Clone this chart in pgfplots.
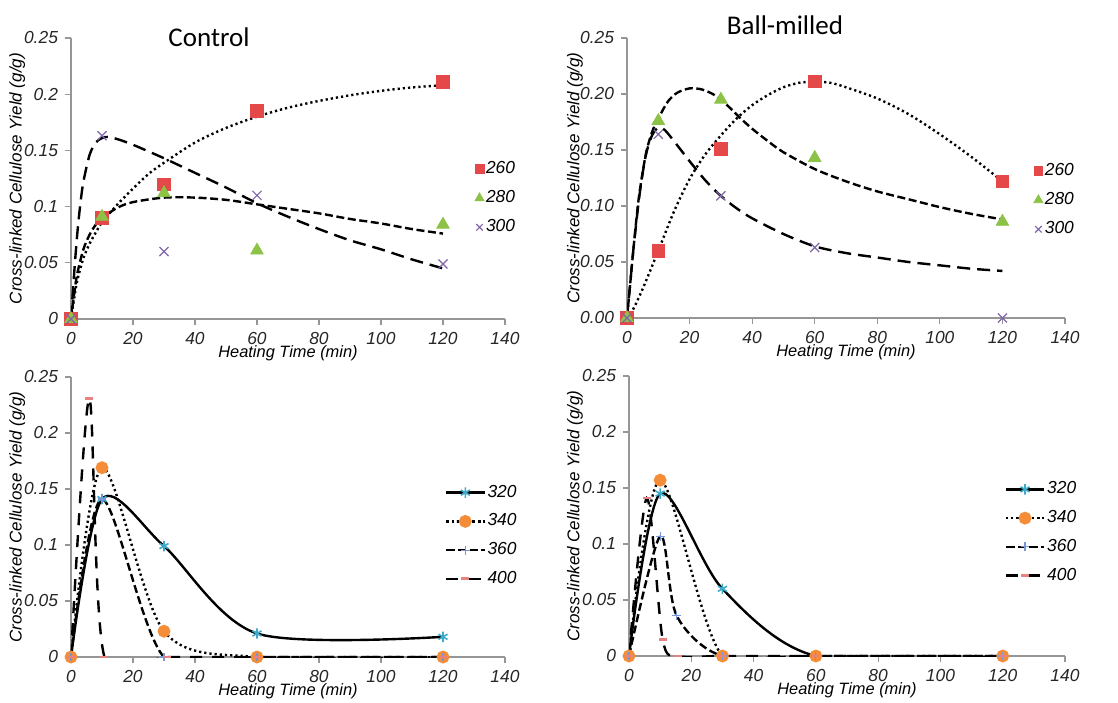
\documentclass[border=0pt]{standalone}
\usepackage{pgfplots}
\pgfplotsset{compat=1.18}
\usepackage{fontspec}
\setmainfont{Liberation Sans}
\newfontfamily\titlefont{Carlito}
\definecolor{axisgray}{RGB}{150,150,150}
\definecolor{cred}{RGB}{228,72,72}
\definecolor{cgreen}{RGB}{140,195,70}
\definecolor{cpurple}{RGB}{128,100,170}
\definecolor{ccyan}{RGB}{60,170,200}
\definecolor{corange}{RGB}{245,140,55}
\definecolor{cblue}{RGB}{120,150,215}
\definecolor{cpink}{RGB}{232,130,130}

\pgfplotsset{
  base/.style={
    scale only axis,
    xmin=0, xmax=140, ymin=0, ymax=0.25,
    axis lines*=left,
    axis line style={draw=axisgray, line width=0.6pt},
    tick align=outside,
    major tick length=3pt,
    tick style={axisgray, line width=0.6pt},
    xtick={0,20,40,60,80,100,120,140},
    xticklabels={0,20,40,60,80,100,120,140},
    ytick={0,0.05,0.1,0.15,0.2,0.25},
    tick label style={font=\itshape\fontsize{8.7}{10}\selectfont, text=black!85},
    xlabel={Heating Time (min)},
    ylabel={Cross-linked Cellulose Yield (g/g)},
    xlabel style={at={(axis description cs:0.5,-0.122)}, anchor=center, font=\itshape\fontsize{8.2}{9.5}\selectfont},
    ylabel style={anchor=center, font=\itshape\fontsize{8.5}{10}\selectfont},
    legend cell align=left,
  },
  toplegend/.style={
    legend style={draw=none, fill=none, inner sep=0pt, outer sep=0pt,
      font=\itshape\fontsize{8.7}{10}\selectfont, row sep=5pt,
      nodes={inner sep=1pt}},
  },
  botlegend/.style={
    legend style={draw=none, fill=none, inner sep=0pt, outer sep=0pt,
      font=\itshape\fontsize{8.7}{10}\selectfont, row sep=4.8pt,
      nodes={inner sep=1pt}},
  },
  mlegend/.style={legend image code/.code={\draw[##1, /tikz/every mark/.append style={scale=0.72}] plot coordinates {(0pt,0pt)};}},
  llegend/.style={legend image code/.code={\draw[mark repeat=2,mark phase=2,##1] plot coordinates {(0pt,0pt)(9.5pt,0pt)(19pt,0pt)};}},
  tl/.style={black, line width=1.2pt, forget plot},
  dotl/.style={dash pattern=on 1.1pt off 1.5pt},
  sdash/.style={dash pattern=on 4pt off 1.8pt},
  ldash/.style={dash pattern=on 6.5pt off 3.5pt},
  msq/.style={only marks, mark=square*, mark size=3.1pt, color=cred, mlegend},
  mtri/.style={only marks, mark=triangle*, mark size=3.6pt, color=cgreen, mlegend},
  mx/.style={only marks, mark=x, mark size=3.2pt, color=cpurple, line width=0.6pt, mlegend},
}

\begin{document}
\begin{tikzpicture}
\useasboundingbox (0,0) rectangle (559pt,351pt);

% ---------------- Top-left: Control ----------------
\begin{axis}[base, toplegend, at={(35.5pt,191.5pt)}, anchor=south west,
  width=217pt, height=140.5pt,
  yticklabels={0,0.05,0.1,0.15,0.2,0.25},
  ylabel style={at={(axis description cs:-0.124,0.5)}},
  legend style={at={(axis description cs:0.931,0.43)}, anchor=west}]
\addplot[tl, dotl, smooth] coordinates {(0,0)(1,0.018)(2,0.034)(4,0.054)(6,0.067)(8,0.077)(10,0.086)(15,0.102)(20,0.116)(25,0.129)(30,0.139)(40,0.157)(50,0.170)(60,0.180)(70,0.188)(80,0.194)(90,0.199)(100,0.203)(110,0.206)(120,0.208)};
\addplot[tl, sdash, smooth] coordinates {(0,0)(1,0.022)(2,0.040)(4,0.062)(6,0.075)(8,0.084)(10,0.090)(15,0.099)(20,0.104)(30,0.108)(40,0.108)(50,0.106)(60,0.102)(70,0.098)(80,0.094)(90,0.089)(100,0.085)(110,0.080)(120,0.076)};
\addplot[tl, ldash, smooth] coordinates {(0,0)(1,0.040)(2,0.075)(3,0.102)(4,0.122)(6,0.146)(8,0.157)(10,0.161)(12,0.162)(15,0.160)(20,0.155)(30,0.143)(40,0.130)(50,0.117)(60,0.103)(70,0.091)(80,0.080)(90,0.070)(100,0.062)(110,0.053)(120,0.045)};
\addplot[msq] coordinates {(0,0)(10,0.090)(30,0.120)(60,0.185)(120,0.211)};
\addlegendentry{260}
\addplot[mtri] coordinates {(0,0)(10,0.091)(30,0.112)(60,0.061)(120,0.084)};
\addlegendentry{280}
\addplot[mx] coordinates {(0,0)(10,0.163)(30,0.060)(60,0.110)(120,0.049)};
\addlegendentry{300}
\end{axis}

% ---------------- Top-right: Ball-milled ----------------
\begin{axis}[base, toplegend, at={(313.5pt,192pt)}, anchor=south west,
  width=219pt, height=140pt,
  yticklabels={0.00,0.05,0.10,0.15,0.20,0.25},
  ylabel style={at={(axis description cs:-0.119,0.5)}},
  legend style={at={(axis description cs:0.929,0.421)}, anchor=west}]
\addplot[tl, dotl, smooth] coordinates {(0,0)(2,0.008)(5,0.026)(10,0.060)(15,0.095)(20,0.124)(25,0.146)(30,0.163)(35,0.178)(40,0.190)(45,0.199)(50,0.206)(55,0.210)(60,0.211)(65,0.210)(70,0.206)(80,0.196)(90,0.182)(100,0.164)(110,0.144)(120,0.122)};
\addplot[tl, sdash, smooth] coordinates {(0,0)(1,0.030)(2,0.060)(3,0.088)(4,0.112)(6,0.146)(8,0.166)(10,0.178)(13,0.193)(16,0.201)(20,0.205)(24,0.204)(28,0.199)(32,0.190)(36,0.179)(40,0.169)(45,0.158)(50,0.148)(60,0.133)(70,0.122)(80,0.113)(90,0.106)(100,0.099)(110,0.093)(120,0.088)};
\addplot[tl, ldash, smooth] coordinates {(0,0)(1,0.030)(2,0.060)(4,0.110)(6,0.145)(8,0.163)(10,0.170)(12,0.168)(15,0.158)(20,0.140)(25,0.123)(30,0.109)(35,0.098)(40,0.089)(50,0.075)(60,0.064)(70,0.058)(80,0.054)(90,0.050)(100,0.047)(110,0.044)(120,0.042)};
\addplot[msq] coordinates {(0,0)(10,0.060)(30,0.151)(60,0.211)(120,0.122)};
\addlegendentry{260}
\addplot[mtri] coordinates {(0,0)(10,0.176)(30,0.195)(60,0.143)(120,0.086)};
\addlegendentry{280}
\addplot[mx] coordinates {(0,0)(10,0.164)(30,0.109)(60,0.063)(120,0)};
\addlegendentry{300}
\end{axis}

% ---------------- Bottom-left ----------------
\begin{axis}[base, botlegend, llegend, at={(35.5pt,22.5pt)}, anchor=south west,
  width=217pt, height=140pt,
  yticklabels={0,0.05,0.1,0.15,0.2,0.25},
  ylabel style={at={(axis description cs:-0.124,0.5)}},
  legend style={at={(axis description cs:0.862,0.433)}, anchor=west}]
\addplot[black, line width=1.2pt, smooth, mark=asterisk, mark size=2.6pt, mark options={solid, ccyan, line width=0.8pt}] coordinates {(0,0)(10,0.141)(30,0.099)(60,0.021)(120,0.018)};
\addlegendentry{320}
\addplot[black, line width=1.2pt, dotl, smooth, mark=*, mark size=2.6pt, mark options={solid, corange, fill=corange}] coordinates {(0,0)(10,0.169)(30,0.023)(60,0)(120,0)};
\addlegendentry{340}
\addplot[black, line width=1.2pt, sdash, smooth, mark=+, mark size=2.2pt, mark options={solid, cblue, line width=0.6pt}] coordinates {(0,0)(10,0.141)(30,0)(60,0)(120,0)};
\addlegendentry{360}
\addplot[black, line width=1.2pt, dash pattern=on 6pt off 5pt, smooth, mark=-, mark size=2pt, mark options={solid, cpink, line width=1.4pt}] coordinates {(0,0)(5.9,0.231)(10.8,0)(30.9,0)(60,0)(120,0)};
\addlegendentry{400}
\end{axis}

% ---------------- Bottom-right ----------------
\begin{axis}[base, botlegend, llegend, at={(314.5pt,23pt)}, anchor=south west,
  width=218pt, height=140pt,
  yticklabels={0,0.05,0.1,0.15,0.2,0.25},
  ylabel style={at={(axis description cs:-0.124,0.5)}},
  legend style={at={(axis description cs:0.862,0.441)}, anchor=west}]
\addplot[black, line width=1.2pt, smooth, mark=asterisk, mark size=2.6pt, mark options={solid, ccyan, line width=0.8pt}] coordinates {(0,0)(10,0.145)(30,0.060)(60,0)(120,0)};
\addlegendentry{320}
\addplot[black, line width=1.2pt, dotl, smooth, mark=*, mark size=2.6pt, mark options={solid, corange, fill=corange}] coordinates {(0,0)(10,0.157)(30,0)(60,0)(120,0)};
\addlegendentry{340}
\addplot[black, line width=1.2pt, sdash, smooth, mark=+, mark size=2.2pt, mark options={solid, cblue, line width=0.6pt}] coordinates {(0,0)(10,0.107)(15.3,0.036)(30,0)(60,0)(120,0)};
\addlegendentry{360}
\addplot[black, line width=1.2pt, dash pattern=on 6pt off 5pt, smooth, mark=-, mark size=2pt, mark options={solid, cpink, line width=1.4pt}] coordinates {(0,0)(5.7,0.141)(10.8,0.015)(15.8,0)(30,0)(60,0)(120,0)};
\addlegendentry{400}
\end{axis}

% ---------------- Panel titles ----------------
\node[font=\titlefont\fontsize{13.5}{16}\selectfont] at (104.5pt,332.5pt) {Control};
\node[font=\titlefont\fontsize{13.5}{16}\selectfont] at (392.5pt,338.5pt) {Ball-milled};
\end{tikzpicture}
\end{document}
